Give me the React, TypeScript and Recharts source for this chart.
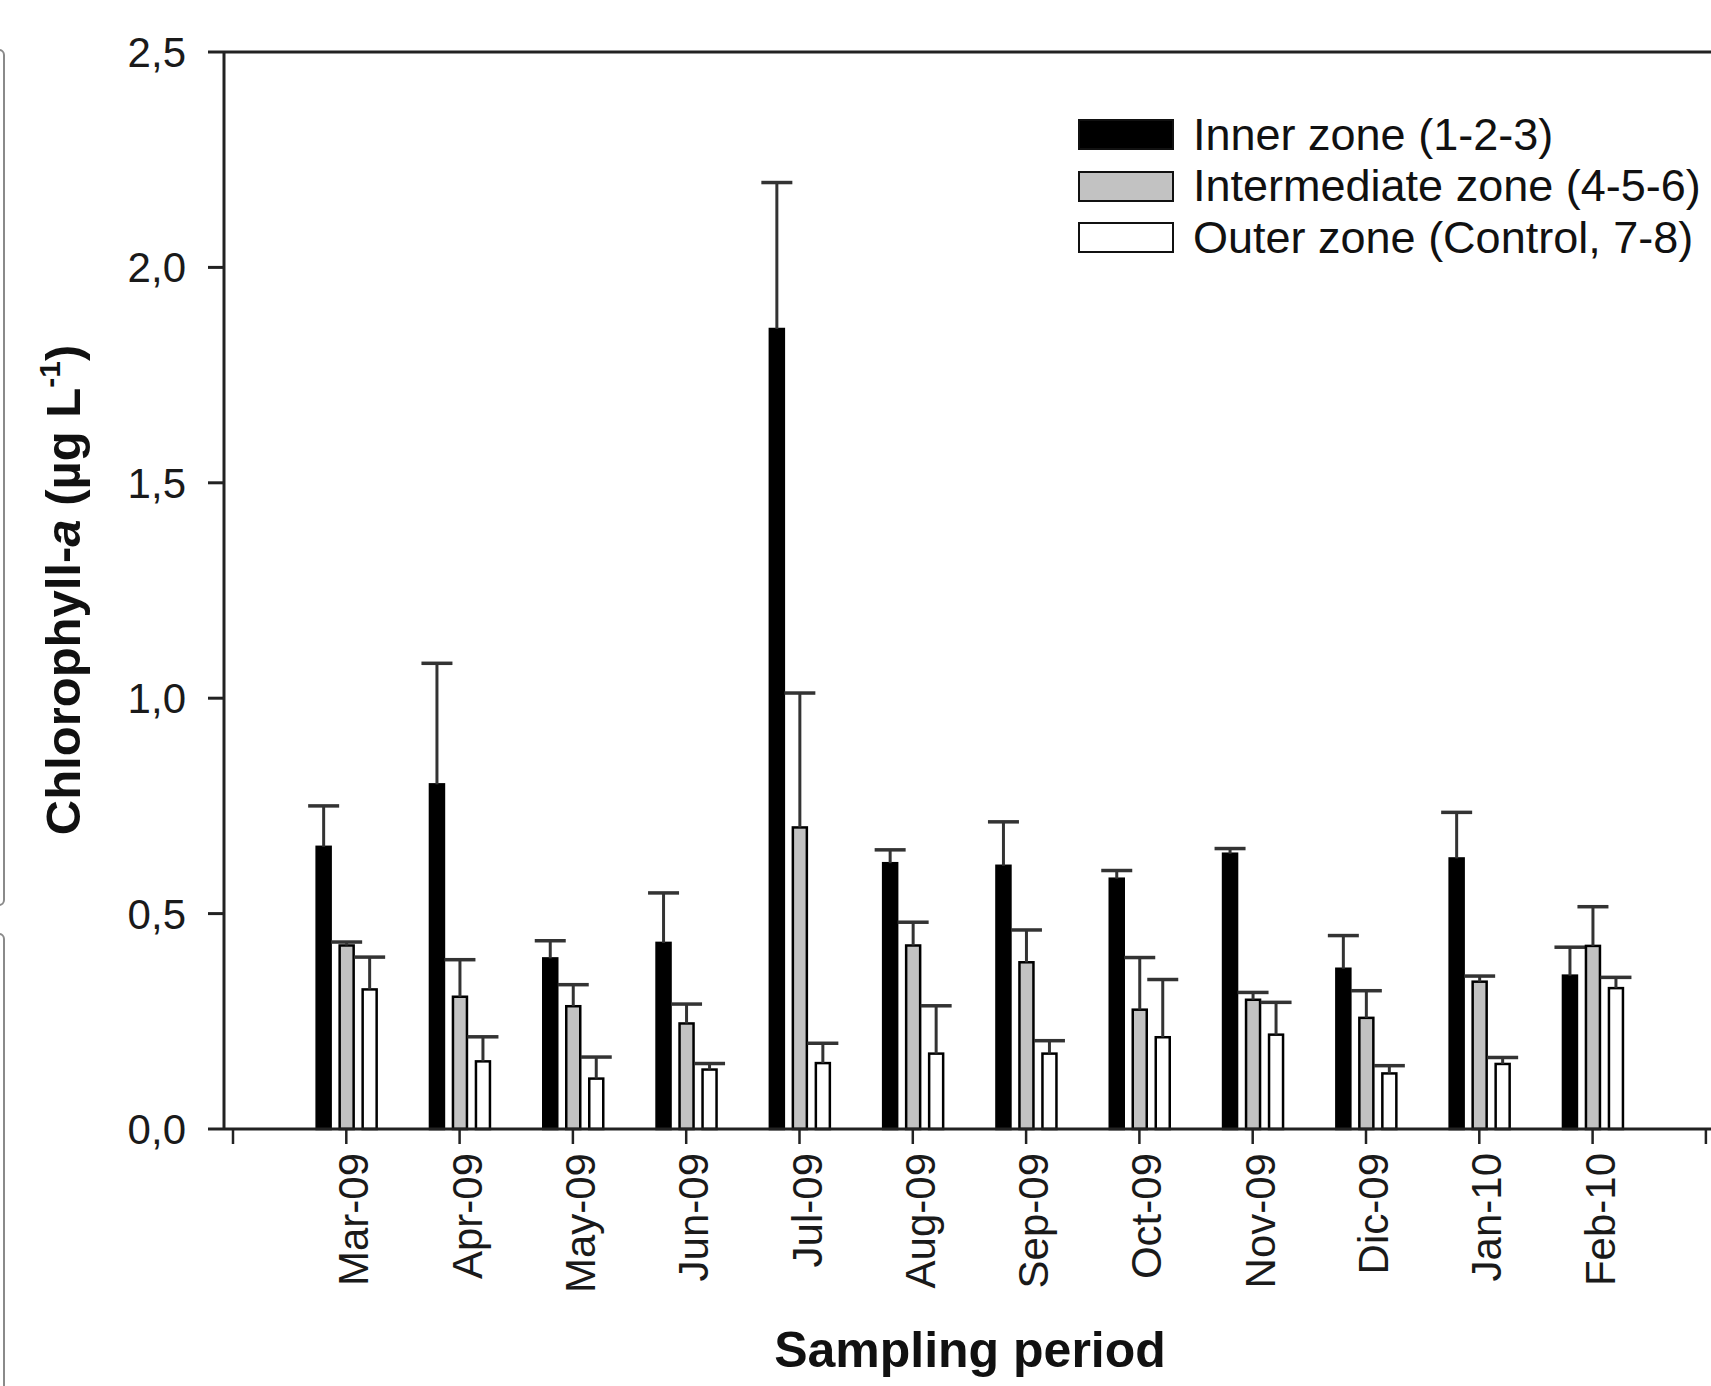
import React from "react";
import { BarChart, Bar, XAxis, YAxis, ReferenceLine, Legend } from "recharts";

const FONT = '"Liberation Sans", Arial, Helvetica, sans-serif';

// ---- data ----
const months = ["Mar-09", "Apr-09", "May-09", "Jun-09", "Jul-09", "Aug-09", "Sep-09", "Oct-09", "Nov-09", "Dic-09", "Jan-10", "Feb-10"];

const innerZone = [0.655, 0.80, 0.396, 0.432, 1.857, 0.617, 0.611, 0.581, 0.639, 0.372, 0.628, 0.356];
const innerErr = [0.095, 0.281, 0.041, 0.116, 0.34, 0.031, 0.102, 0.019, 0.012, 0.077, 0.107, 0.066];

const intermediateZone = [0.426, 0.307, 0.285, 0.245, 0.70, 0.426, 0.387, 0.277, 0.30, 0.258, 0.342, 0.425];
const intermediateErr = [0.008, 0.086, 0.05, 0.045, 0.312, 0.054, 0.075, 0.121, 0.017, 0.063, 0.013, 0.091];

const outerZone = [0.324, 0.157, 0.117, 0.138, 0.153, 0.175, 0.175, 0.213, 0.219, 0.129, 0.151, 0.327];
const outerErr = [0.075, 0.057, 0.05, 0.014, 0.046, 0.111, 0.03, 0.134, 0.075, 0.018, 0.015, 0.025];

const yTicks = [0, 0.5, 1.0, 1.5, 2.0, 2.5];

const seriesNames = ["Inner zone (1-2-3)", "Intermediate zone (4-5-6)", "Outer zone (Control, 7-8)"];

// empty slots at both ends of the axis (ticks without bars)
const START = "__start";
const END = "__end";

const data = [
  { key: START },
  ...months.map((m, i) => ({
    key: m,
    inner: innerZone[i],
    innerErr: innerErr[i],
    intermediate: intermediateZone[i],
    intermediateErr: intermediateErr[i],
    outer: outerZone[i],
    outerErr: outerErr[i],
  })),
  { key: END },
];

const series = [
  { dataKey: "inner", errKey: "innerErr", name: seriesNames[0], fill: "#000000" },
  { dataKey: "intermediate", errKey: "intermediateErr", name: seriesNames[1], fill: "#c2c2c2" },
  { dataKey: "outer", errKey: "outerErr", name: seriesNames[2], fill: "#ffffff" },
];

const makeShape = (dataKey: string, errKey: string, fill: string) => (props: any) => {
  const { x, y, width, height, payload } = props;
  const v = payload ? payload[dataKey] : null;
  if (v == null || !isFinite(y) || !isFinite(height) || height <= 0) return <g />;
  const e = payload[errKey] || 0;
  const pxPerUnit = height / v;
  const cx = x + width / 2;
  const ey = y - e * pxPerUnit;
  const capW = 31;
  return (
    <g>
      <rect x={x} y={y} width={width} height={height} fill={fill} stroke="#000" strokeWidth={2.5} />
      <line x1={cx} x2={cx} y1={y} y2={ey} stroke="#333" strokeWidth={3} />
      <line x1={cx - capW / 2} x2={cx + capW / 2} y1={ey} y2={ey} stroke="#333" strokeWidth={3.5} />
    </g>
  );
};

const XTick = (props: any) => {
  const { x, y, payload } = props;
  const v = payload?.value;
  if (v === START || v === END) return <g />;
  return (
    <text
      x={x}
      y={y}
      dy={22}
      transform={`rotate(-90, ${x}, ${y})`}
      textAnchor="end"
      fontFamily={FONT}
      fontSize={42}
      fill="#1a1a1a"
    >
      {v}
    </text>
  );
};

const YTitle = () => (
  <text
    x={80}
    y={590}
    transform="rotate(-90, 80, 590)"
    textAnchor="middle"
    fontFamily={FONT}
    fontWeight="bold"
    fontSize={49}
    fill="#111"
  >
    Chlorophyll-<tspan fontStyle="italic">a</tspan> (µg L<tspan fontSize={30} dy={-20}>-1</tspan>
    <tspan dy={20}>)</tspan>
  </text>
);

const XTitle = () => (
  <text x={970} y={1367} textAnchor="middle" fontFamily={FONT} fontWeight="bold" fontSize={50} fill="#111">
    Sampling period
  </text>
);

const LegendContent = () => (
  <div style={{ fontFamily: FONT, fontSize: 45, color: "#111" }}>
    {series.map((s) => (
      <div key={s.dataKey} style={{ display: "flex", alignItems: "center", height: 51.5, whiteSpace: "nowrap" }}>
        <span
          style={{
            display: "inline-block",
            width: 96,
            height: 31,
            background: s.fill,
            border: "2.5px solid #111",
            boxSizing: "border-box",
            marginRight: 19,
          }}
        />
        <span>{s.name}</span>
      </div>
    ))}
  </div>
);

export default function App() {
  return (
    <div
      style={{
        position: "absolute",
        left: 0,
        top: 0,
        width: 1711,
        height: 1386,
        overflow: "hidden",
        background: "#fff",
      }}
    >
      {/* edges of neighbouring panels */}
      <div
        style={{
          position: "absolute",
          left: -400,
          top: 49,
          width: 405,
          height: 857,
          border: "2px solid #8a8a8a",
          borderRadius: 6,
          boxSizing: "border-box",
        }}
      />
      <div
        style={{
          position: "absolute",
          left: -400,
          top: 933,
          width: 405,
          height: 600,
          border: "2px solid #8a8a8a",
          borderRadius: 6,
          boxSizing: "border-box",
        }}
      />
      <BarChart
        width={1711}
        height={1386}
        data={data}
        margin={{ top: 52, right: 0, bottom: 0, left: 0 }}
        barSize={14}
        barGap={9}
        style={{ position: "absolute", left: 0, top: 0 }}
      >
        <XAxis
          dataKey="key"
          type="category"
          interval={0}
          padding={{ left: -47.65, right: -51.55 }}
          height={257}
          tickSize={15}
          tickMargin={9}
          tick={<XTick />}
          axisLine={{ stroke: "#222", strokeWidth: 3 }}
          tickLine={{ stroke: "#222", strokeWidth: 2.5 }}
          label={<XTitle />}
        />
        <YAxis
          type="number"
          domain={[0, 2.5]}
          ticks={yTicks}
          interval={0}
          width={224}
          tickSize={16}
          tickMargin={22}
          tickFormatter={(v: number) => v.toFixed(1).replace(".", ",")}
          tick={{ fontSize: 42, fill: "#1a1a1a", fontFamily: FONT }}
          axisLine={{ stroke: "#222", strokeWidth: 3 }}
          tickLine={{ stroke: "#222", strokeWidth: 3 }}
          label={<YTitle />}
        />
        <ReferenceLine y={2.5} stroke="#222" strokeWidth={3} />
        <Legend
          layout="vertical"
          verticalAlign="middle"
          align="center"
          content={<LegendContent />}
          wrapperStyle={{ left: 1078, top: 109, width: 640, height: 160 }}
        />
        {series.map((s) => (
          <Bar
            key={s.dataKey}
            dataKey={s.dataKey}
            name={s.name}
            fill={s.fill}
            stroke="#000"
            isAnimationActive={false}
            shape={makeShape(s.dataKey, s.errKey, s.fill)}
          />
        ))}
      </BarChart>
    </div>
  );
}
